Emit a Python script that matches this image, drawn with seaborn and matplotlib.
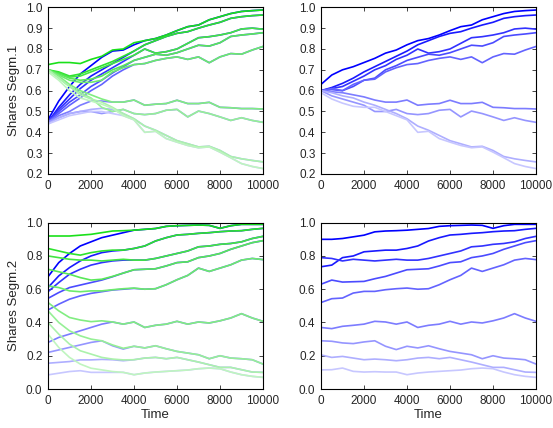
import matplotlib
matplotlib.use("Agg")
import matplotlib.pyplot as plt
import seaborn as sns

# time grid (0 .. 10000 every 500)
time = [0, 500, 1000, 1500, 2000, 2500, 3000, 3500, 4000, 4500, 5000,
        5500, 6000, 6500, 7000, 7500, 8000, 8500, 9000, 9500, 10000]

# ---- segment 1 (top row) ----
# early part (t = 0..5000), one row per firm, darkest first
seg1_green = [
    [0.725, 0.735, 0.735, 0.73, 0.75, 0.765, 0.795, 0.80, 0.83, 0.84, 0.85],
    [0.70, 0.69, 0.67, 0.68, 0.70, 0.72, 0.74, 0.765, 0.79, 0.82, 0.84],
    [0.70, 0.685, 0.665, 0.67, 0.69, 0.71, 0.73, 0.75, 0.77, 0.80, 0.78],
    [0.70, 0.68, 0.66, 0.65, 0.655, 0.67, 0.70, 0.72, 0.745, 0.76, 0.775],
    [0.70, 0.675, 0.65, 0.64, 0.64, 0.65, 0.69, 0.71, 0.725, 0.73, 0.745],
    [0.70, 0.67, 0.63, 0.60, 0.58, 0.56, 0.545, 0.545, 0.555, 0.53, 0.535],
    [0.70, 0.66, 0.62, 0.59, 0.565, 0.52, 0.50, 0.51, 0.49, 0.485, 0.49],
    [0.70, 0.66, 0.62, 0.58, 0.56, 0.545, 0.52, 0.49, 0.465, 0.43, 0.41],
    [0.69, 0.65, 0.60, 0.565, 0.55, 0.535, 0.515, 0.48, 0.46, 0.40, 0.405],
]
seg1_blue_left = [
    [0.46, 0.55, 0.62, 0.68, 0.72, 0.76, 0.79, 0.795, 0.82, 0.84, 0.85],
    [0.45, 0.52, 0.58, 0.63, 0.67, 0.70, 0.73, 0.76, 0.79, 0.82, 0.84],
    [0.45, 0.51, 0.56, 0.61, 0.65, 0.68, 0.71, 0.74, 0.77, 0.80, 0.78],
    [0.45, 0.50, 0.545, 0.58, 0.62, 0.65, 0.685, 0.715, 0.745, 0.76, 0.775],
    [0.45, 0.49, 0.53, 0.565, 0.60, 0.63, 0.67, 0.70, 0.725, 0.73, 0.745],
    [0.45, 0.48, 0.50, 0.53, 0.55, 0.55, 0.545, 0.545, 0.555, 0.53, 0.535],
    [0.45, 0.47, 0.49, 0.50, 0.50, 0.49, 0.50, 0.51, 0.49, 0.485, 0.49],
    [0.44, 0.47, 0.49, 0.50, 0.51, 0.515, 0.51, 0.49, 0.465, 0.43, 0.41],
    [0.44, 0.46, 0.48, 0.49, 0.50, 0.50, 0.49, 0.48, 0.46, 0.40, 0.405],
]
seg1_blue_right = [
    [0.63, 0.675, 0.70, 0.715, 0.735, 0.755, 0.78, 0.795, 0.82, 0.84, 0.85],
    [0.60, 0.615, 0.635, 0.66, 0.69, 0.715, 0.74, 0.765, 0.79, 0.82, 0.84],
    [0.60, 0.61, 0.62, 0.645, 0.67, 0.70, 0.72, 0.75, 0.77, 0.80, 0.78],
    [0.60, 0.605, 0.60, 0.62, 0.65, 0.66, 0.70, 0.72, 0.745, 0.76, 0.775],
    [0.60, 0.61, 0.60, 0.63, 0.65, 0.655, 0.69, 0.71, 0.725, 0.73, 0.745],
    [0.60, 0.595, 0.59, 0.58, 0.57, 0.555, 0.545, 0.545, 0.555, 0.53, 0.535],
    [0.60, 0.575, 0.56, 0.545, 0.53, 0.50, 0.50, 0.51, 0.49, 0.485, 0.49],
    [0.60, 0.59, 0.575, 0.565, 0.545, 0.53, 0.51, 0.49, 0.465, 0.43, 0.41],
    [0.59, 0.56, 0.54, 0.525, 0.52, 0.52, 0.50, 0.48, 0.46, 0.40, 0.405],
]
# shared late part (t = 5500..10000)
seg1_tail = [
    [0.867, 0.888, 0.907, 0.915, 0.94, 0.955, 0.97, 0.98, 0.984, 0.987],
    [0.86, 0.875, 0.883, 0.90, 0.915, 0.928, 0.947, 0.955, 0.96, 0.963],
    [0.787, 0.80, 0.827, 0.854, 0.859, 0.867, 0.878, 0.896, 0.90, 0.895],
    [0.77, 0.782, 0.80, 0.818, 0.814, 0.83, 0.86, 0.867, 0.872, 0.878],
    [0.755, 0.762, 0.75, 0.762, 0.734, 0.762, 0.778, 0.775, 0.795, 0.812],
    [0.538, 0.554, 0.538, 0.538, 0.544, 0.52, 0.518, 0.514, 0.514, 0.512],
    [0.506, 0.51, 0.474, 0.502, 0.49, 0.474, 0.457, 0.47, 0.457, 0.448],
    [0.385, 0.36, 0.345, 0.33, 0.333, 0.313, 0.284, 0.273, 0.265, 0.258],
    [0.37, 0.353, 0.337, 0.326, 0.33, 0.305, 0.278, 0.25, 0.236, 0.226],
]

# ---- segment 2 (bottom row) ----
seg2_green = [
    [0.92, 0.92, 0.92, 0.925, 0.93, 0.94, 0.95, 0.952, 0.955, 0.96, 0.965],
    [0.845, 0.83, 0.815, 0.805, 0.82, 0.83, 0.835, 0.835, 0.845, 0.86, 0.89],
    [0.80, 0.79, 0.78, 0.775, 0.775, 0.77, 0.775, 0.78, 0.775, 0.775, 0.785],
    [0.72, 0.705, 0.69, 0.67, 0.655, 0.66, 0.677, 0.697, 0.717, 0.72, 0.723],
    [0.62, 0.61, 0.59, 0.585, 0.59, 0.59, 0.597, 0.603, 0.607, 0.60, 0.603],
    [0.52, 0.47, 0.43, 0.415, 0.405, 0.41, 0.403, 0.39, 0.403, 0.37, 0.383],
    [0.47, 0.40, 0.35, 0.32, 0.30, 0.29, 0.265, 0.245, 0.257, 0.247, 0.26],
    [0.40, 0.33, 0.27, 0.23, 0.21, 0.19, 0.18, 0.175, 0.176, 0.186, 0.19],
    [0.33, 0.25, 0.19, 0.15, 0.125, 0.115, 0.105, 0.10, 0.086, 0.096, 0.102],
]
seg2_blue_left = [
    [0.675, 0.76, 0.815, 0.86, 0.885, 0.91, 0.925, 0.94, 0.955, 0.96, 0.965],
    [0.61, 0.68, 0.73, 0.77, 0.80, 0.82, 0.83, 0.835, 0.845, 0.86, 0.89],
    [0.585, 0.64, 0.69, 0.72, 0.745, 0.76, 0.77, 0.775, 0.775, 0.775, 0.785],
    [0.545, 0.58, 0.61, 0.625, 0.64, 0.655, 0.675, 0.697, 0.717, 0.72, 0.723],
    [0.475, 0.51, 0.54, 0.56, 0.575, 0.585, 0.595, 0.60, 0.605, 0.60, 0.603],
    [0.28, 0.31, 0.33, 0.35, 0.37, 0.39, 0.403, 0.39, 0.403, 0.37, 0.383],
    [0.22, 0.235, 0.25, 0.265, 0.28, 0.29, 0.26, 0.24, 0.257, 0.247, 0.26],
    [0.155, 0.16, 0.165, 0.175, 0.175, 0.178, 0.176, 0.17, 0.176, 0.186, 0.19],
    [0.085, 0.095, 0.105, 0.11, 0.10, 0.10, 0.10, 0.10, 0.086, 0.096, 0.102],
]
seg2_blue_right = [
    [0.90, 0.90, 0.905, 0.915, 0.925, 0.945, 0.95, 0.952, 0.955, 0.96, 0.965],
    [0.735, 0.745, 0.79, 0.80, 0.825, 0.83, 0.835, 0.835, 0.845, 0.86, 0.89],
    [0.79, 0.785, 0.77, 0.78, 0.775, 0.77, 0.775, 0.78, 0.775, 0.775, 0.785],
    [0.63, 0.655, 0.643, 0.645, 0.647, 0.663, 0.677, 0.697, 0.717, 0.72, 0.723],
    [0.52, 0.543, 0.547, 0.577, 0.587, 0.587, 0.597, 0.603, 0.607, 0.60, 0.603],
    [0.37, 0.363, 0.377, 0.383, 0.39, 0.407, 0.403, 0.39, 0.403, 0.37, 0.383],
    [0.29, 0.287, 0.277, 0.273, 0.283, 0.29, 0.257, 0.237, 0.257, 0.247, 0.26],
    [0.205, 0.19, 0.196, 0.186, 0.176, 0.18, 0.176, 0.17, 0.176, 0.186, 0.19],
    [0.115, 0.116, 0.126, 0.106, 0.102, 0.104, 0.102, 0.102, 0.086, 0.096, 0.102],
]
seg2_tail = [
    [0.978, 0.982, 0.984, 0.986, 0.984, 0.966, 0.982, 0.99, 0.99, 0.99],
    [0.91, 0.926, 0.93, 0.936, 0.94, 0.946, 0.95, 0.952, 0.96, 0.966],
    [0.80, 0.815, 0.83, 0.855, 0.86, 0.87, 0.875, 0.885, 0.905, 0.918],
    [0.74, 0.76, 0.765, 0.79, 0.80, 0.815, 0.84, 0.86, 0.88, 0.892],
    [0.627, 0.657, 0.683, 0.727, 0.707, 0.727, 0.747, 0.775, 0.785, 0.778],
    [0.39, 0.407, 0.39, 0.403, 0.397, 0.41, 0.427, 0.453, 0.427, 0.407],
    [0.242, 0.226, 0.216, 0.206, 0.182, 0.20, 0.186, 0.182, 0.176, 0.15],
    [0.182, 0.19, 0.176, 0.162, 0.146, 0.13, 0.13, 0.116, 0.102, 0.10],
    [0.106, 0.11, 0.114, 0.122, 0.126, 0.122, 0.102, 0.086, 0.076, 0.07],
]

y_labels = ["Shares Segm.1", "Shares Segm.2"]
x_label = "Time"


def blue(k, n=9):
    f = 0.78 * k / (n - 1)
    return (f, f, 1.0)


def green(k, n=9):
    f = 0.1 + 0.65 * k / (n - 1)
    return (f, 0.88 + 0.08 * k / (n - 1), f)


sns.set_style("ticks")
plt.rcParams['font.family'] = ['Liberation Sans', 'DejaVu Sans']
plt.rcParams['xtick.direction'] = 'in'
plt.rcParams['ytick.direction'] = 'in'

fig = plt.figure(figsize=(5.53, 4.28), dpi=100)
W, H = 553, 428
boxes = {
    (0, 0): (48, 7.3, 263, 174),
    (0, 1): (321, 7.3, 536, 174),
    (1, 0): (48, 222.7, 263, 389),
    (1, 1): (321, 222.7, 536, 389),
}

rows = [
    (seg1_green, seg1_blue_left, seg1_blue_right, seg1_tail),
    (seg2_green, seg2_blue_left, seg2_blue_right, seg2_tail),
]

for r, (greens, blues_l, blues_r, tail) in enumerate(rows):
    for c in range(2):
        x0, y0, x1, y1 = boxes[(r, c)]
        ax = fig.add_axes([x0 / W, 1 - y1 / H, (x1 - x0) / W, (y1 - y0) / H])
        if c == 0:
            for k in range(9):
                sns.lineplot(x=time, y=blues_l[k] + tail[k], color=blue(k), lw=1.2, ax=ax)
            for k in range(9):
                sns.lineplot(x=time, y=greens[k] + tail[k], color=green(k), lw=1.2, ax=ax)
            ax.set_ylabel(y_labels[r], fontsize=9.5, labelpad=4)
        else:
            for k in range(9):
                sns.lineplot(x=time, y=blues_r[k] + tail[k], color=blue(k), lw=1.2, ax=ax)
            ax.set_ylabel("")
        ax.set_xlim(0, 10000)
        ax.set_xticks([0, 2000, 4000, 6000, 8000, 10000])
        if r == 0:
            ax.set_ylim(0.2, 1.0)
            ax.set_yticks([0.2, 0.3, 0.4, 0.5, 0.6, 0.7, 0.8, 0.9, 1.0])
            ax.set_yticklabels([f"{v:.1f}" for v in ax.get_yticks()])
            ax.set_xlabel("")
        else:
            ax.set_ylim(0.0, 1.0)
            ax.set_yticks([0.0, 0.2, 0.4, 0.6, 0.8, 1.0])
            ax.set_yticklabels([f"{v:.1f}" for v in ax.get_yticks()])
            ax.set_xlabel(x_label, fontsize=9.5, labelpad=2)
        ax.tick_params(axis='both', which='both', direction='in', top=True, right=True,
                       labelsize=8.5, length=3, width=0.6, pad=4)
        for s in ax.spines.values():
            s.set_linewidth(0.8)
            s.set_color('black')

fig.savefig("out.png", dpi=100)
